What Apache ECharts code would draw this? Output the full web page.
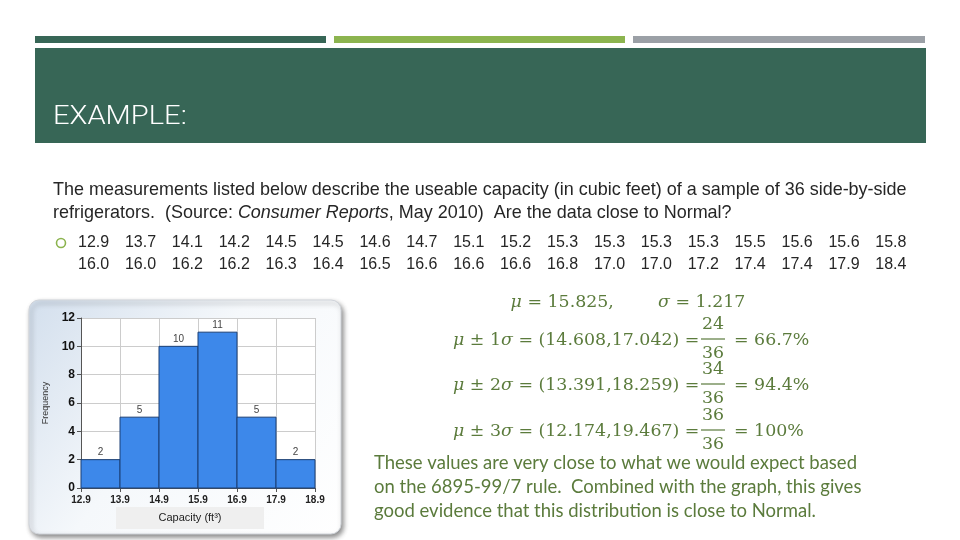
<!DOCTYPE html>
<html><head><meta charset="utf-8">
<script src="https://cdn.jsdelivr.net/npm/echarts@6/dist/echarts.min.js"></script>
<style>html,body{margin:0;padding:0;background:#fff}#c{width:960px;height:540px}</style>
</head><body><div id="c"></div>
<script>
// Histogram data
const binEdges = ['12.9','13.9','14.9','15.9','16.9','17.9','18.9'];
const frequencies = [2, 5, 10, 11, 5, 2];
const yTicks = [0, 2, 4, 6, 8, 10, 12];
const dataRow1 = ['12.9','13.7','14.1','14.2','14.5','14.5','14.6','14.7','15.1','15.2','15.3','15.3','15.3','15.3','15.5','15.6','15.6','15.8'];
const dataRow2 = ['16.0','16.0','16.2','16.2','16.3','16.4','16.5','16.6','16.6','16.6','16.8','17.0','17.0','17.2','17.4','17.4','17.9','18.4'];

const chart = echarts.init(document.getElementById('c'), null, {renderer: 'canvas'});
const green = '#5b7b3c';
const mathFam = '"DejaVu Serif", "Liberation Serif", serif';
const mathSize = 17.4;
const mathFont = mathSize + 'px ' + mathFam;
const narrow = '"Liberation Sans", Arial, sans-serif';

function txt(text, x, y, font, fill, align, sx) {
  return {type: 'text', silent: true, x: x, y: y, scaleX: sx || 1,
    style: {text, x: 0, y: 0, font, fill, align: align || 'left', verticalAlign: 'middle'}};
}
function mtxt(text, x, y, align) {
  return {type: 'text', silent: true, x: x, y: y,
    style: {text, x: 0, y: 0, font: mathFont, fill: green, align: align || 'left', verticalAlign: 'middle',
      rich: {i: {font: 'italic ' + mathSize + 'px ' + mathFam, fill: green}}}};
}
function frac(num, den, cx, cy) {
  return [
    mtxt(num, cx, cy - 15, 'center'),
    {type: 'line', silent: true, shape: {x1: cx - 12, y1: cy, x2: cx + 12, y2: cy}, style: {stroke: green, lineWidth: 1.2}},
    mtxt(den, cx, cy + 14, 'center')
  ];
}

const pitch = 46.9;
const numbers = [];
dataRow1.forEach((v, i) => numbers.push(txt(v, 78 + i * pitch, 243, '16px ' + narrow, '#262626')));
dataRow2.forEach((v, i) => numbers.push(txt(v, 78 + i * pitch, 265, '16px ' + narrow, '#262626')));

const graphics = [
  {type: 'rect', silent: true, shape: {x: 35, y: 36, width: 291, height: 7}, style: {fill: '#376656'}},
  {type: 'rect', silent: true, shape: {x: 334, y: 36, width: 291, height: 7}, style: {fill: '#8cb44f'}},
  {type: 'rect', silent: true, shape: {x: 633, y: 36, width: 292, height: 7}, style: {fill: '#9ba0a6'}},
  {type: 'rect', silent: true, shape: {x: 35, y: 48, width: 891, height: 95}, style: {fill: '#376656'}},
  txt('EXAMPLE:', 53, 117, '300 26px Roboto, "Liberation Sans", sans-serif', '#ffffff', 'left', 1.12),
  txt('The measurements listed below describe the useable capacity (in cubic feet) of a sample of 36 side-by-side', 53, 190, '18.5px ' + narrow, '#262626', 'left', 0.972),
  {type: 'text', silent: true, x: 53, y: 213, scaleX: 0.972, style: {x: 0, y: 0, verticalAlign: 'middle', font: '18.5px ' + narrow, fill: '#262626',
    rich: {i: {font: 'italic 18.5px ' + narrow, fill: '#262626'}},
    text: 'refrigerators.  (Source: {i|Consumer Reports}, May 2010)  Are the data close to Normal?'}},
  {type: 'circle', silent: true, shape: {cx: 61, cy: 243, r: 4.5}, style: {fill: 'none', stroke: '#8cb44f', lineWidth: 1.6}},
  ...numbers,
  // chart frame
  {type: 'rect', silent: true, z: -10, shape: {x: 29, y: 300, width: 312, height: 234, r: 10},
    style: {fill: new echarts.graphic.LinearGradient(0, 0, 1, 1, [{offset: 0, color: '#d3dfed'}, {offset: 0.45, color: '#f5f8fb'}, {offset: 1, color: '#ffffff'}]),
      stroke: '#d0d4da', lineWidth: 1, shadowBlur: 5, shadowOffsetX: 2, shadowOffsetY: 3, shadowColor: 'rgba(0,0,0,0.45)'}},
  {type: 'rect', silent: true, shape: {x: 116, y: 507, width: 148, height: 22}, style: {fill: '#efefef'}},
  txt('Capacity (ft³)', 190, 518, '11px ' + narrow, '#222', 'center'),
  // math
  mtxt('{i|μ} = 15.825,        {i|σ} = 1.217', 628, 302, 'center'),
  mtxt('{i|μ} ± 1{i|σ} = (14.608,17.042) =', 453, 340),
  ...frac('24', '36', 713, 339),
  mtxt('= 66.7%', 734, 340),
  mtxt('{i|μ} ± 2{i|σ} = (13.391,18.259) =', 453, 385),
  ...frac('34', '36', 713, 384),
  mtxt('= 94.4%', 734, 385),
  mtxt('{i|μ} ± 3{i|σ} = (12.174,19.467) =', 453, 431),
  ...frac('36', '36', 713, 430),
  mtxt('= 100%', 734, 431),
  txt('These values are very close to what we would expect based', 374, 463, '18.5px Lato, "Open Sans", sans-serif', green),
  txt('on the 6895-99/7 rule.  Combined with the graph, this gives', 374, 487, '18.5px Lato, "Open Sans", sans-serif', green),
  txt('good evidence that this distribution is close to Normal.', 374, 511, '18.5px Lato, "Open Sans", sans-serif', green)
];

chart.setOption({
  animation: false,
  backgroundColor: '#ffffff',
  graphic: graphics,
  grid: {left: 81, top: 318, width: 234, height: 170, show: true, backgroundColor: '#ffffff', borderWidth: 0},
  xAxis: {type: 'value', min: 0, max: binEdges.length - 1, interval: 1,
    axisLine: {show: true, onZero: false, lineStyle: {color: '#555'}},
    axisTick: {show: true, length: 4, lineStyle: {color: '#555'}},
    axisLabel: {formatter: v => binEdges[v], fontSize: 10, fontWeight: 'bold', color: '#222', fontFamily: narrow, margin: 7},
    splitLine: {show: true, lineStyle: {color: '#cccccc'}}},
  yAxis: {type: 'value', min: yTicks[0], max: yTicks[yTicks.length - 1], interval: 2,
    name: 'Frequency', nameLocation: 'middle', nameGap: 31, nameRotate: 90,
    nameTextStyle: {fontSize: 9, color: '#333', fontFamily: narrow},
    axisLine: {show: true, lineStyle: {color: '#555'}},
    axisTick: {show: true, length: 4, lineStyle: {color: '#555'}},
    axisLabel: {fontSize: 12, fontWeight: 'bold', color: '#111', fontFamily: narrow, margin: 6},
    splitLine: {show: true, lineStyle: {color: '#cccccc'}}},
  series: [{
    type: 'custom',
    data: frequencies.map((f, i) => [i, f]),
    renderItem: function (params, api) {
      const i = api.value(0), f = api.value(1);
      const p0 = api.coord([i, 0]);
      const p1 = api.coord([i + 1, f]);
      return {type: 'group', children: [
        {type: 'rect', shape: {x: p0[0], y: p1[1], width: p1[0] - p0[0], height: p0[1] - p1[1]},
          style: {fill: '#3d88ea', stroke: '#1b3f75', lineWidth: 1}},
        {type: 'text', style: {text: String(f), x: (p0[0] + p1[0]) / 2, y: p1[1] - 7, align: 'center', verticalAlign: 'middle',
          font: '10px ' + narrow, fill: '#444'}}
      ]};
    }
  }]
});
</script></body></html>
